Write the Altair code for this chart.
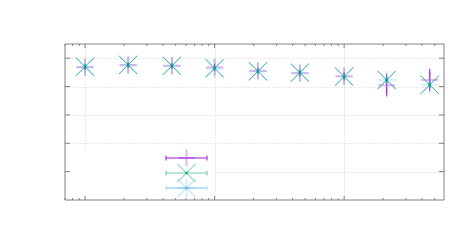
import altair as alt
import pandas as pd

# ---- data ----
x_vals = [1, 2.15, 4.68, 10, 21.6, 45.5, 100, 213, 458]
purple_y = [4.68, 4.75, 4.73, 4.68, 4.56, 4.47, 4.36, 4.05, 4.23]
purple_err = [0.10, 0.10, 0.10, 0.12, 0.10, 0.12, 0.15, 0.40, 0.40]
green_y = [4.70, 4.76, 4.73, 4.65, 4.54, 4.49, 4.35, 4.23, 4.06]
green_err = [0.08, 0.08, 0.08, 0.08, 0.08, 0.08, 0.08, 0.10, 0.10]
blue_y = [4.70, 4.77, 4.73, 4.63, 4.53, 4.49, 4.35, 4.23, 4.06]
blue_err = [0.10, 0.10, 0.10, 0.10, 0.10, 0.10, 0.10, 0.12, 0.12]

x_major = [1, 10, 100]
x_minor = [0.7, 0.8, 0.9, 2, 3, 4, 5, 6, 7, 8, 9,
           20, 30, 40, 50, 60, 70, 80, 90, 200, 300, 400, 500]
y_ticks = [1, 2, 3, 4, 5]

W, H = 379, 156
GRAY = "#808080"

PLUS = "M-1,0L1,0M0,-1L0,1"
XSH = "M-1,-1L1,1M-1,1L1,-1"
STAR = PLUS + XSH

series = [
    dict(name="purple", color="#9400d3", ys=purple_y, err=purple_err, shape=PLUS,
         size=289, sw=2.0, op=0.28, lineop=0.9, linew=1.0, dot=False),
    dict(name="blue", color="#56b4e9", ys=blue_y, err=blue_err, shape=STAR,
         size=340, sw=1.4, op=0.3, lineop=0.4, linew=1.8, dot=True),
    dict(name="green", color="#009e73", ys=green_y, err=green_err, shape=XSH,
         size=330, sw=1.0, op=0.65, lineop=0.55, linew=1.0, dot=True),
]
key_order = ["purple", "green", "blue"]

xscale = alt.Scale(type="log", domain=[0.7, 590], nice=False)
yscale = alt.Scale(domain=[0, 5.5], nice=False, zero=False)
xaxis = alt.Axis(values=x_major, grid=True, gridDash=[1, 2], gridColor="#d4d4d4",
                 labels=False, ticks=False, domain=False, title=None)
yaxis = alt.Axis(values=y_ticks, grid=True, gridDash=[1, 2], gridColor="#d4d4d4",
                 labels=False, ticks=False, domain=False, title=None)


def X(field="x"):
    return alt.X(f"{field}:Q", scale=xscale, axis=xaxis)


def Y(field="y"):
    return alt.Y(f"{field}:Q", scale=yscale, axis=yaxis)


layers = []

# key box background (hides grid lines)
layers.append(alt.Chart(pd.DataFrame({"a": [0]})).mark_rect(fill="white").encode(
    x=alt.value(1), x2=alt.value(150), y=alt.value(106), y2=alt.value(H - 1)))

for s in series:
    df = pd.DataFrame({"x": x_vals, "y": s["ys"],
                       "lo": [v - e for v, e in zip(s["ys"], s["err"])],
                       "hi": [v + e for v, e in zip(s["ys"], s["err"])]})
    base = alt.Chart(df)
    layers.append(base.mark_rule(color=s["color"], opacity=s["lineop"], strokeWidth=s["linew"]).encode(
        x=X(), y=Y("lo"), y2="hi:Q"))
    layers.append(base.mark_point(shape=s["shape"], size=s["size"], filled=False,
                                  color=s["color"], strokeWidth=s["sw"], opacity=s["op"]).encode(
        x=X(), y=Y()))
    if s["dot"]:
        layers.append(base.mark_point(shape="square", size=6, filled=True,
                                      color=s["color"], opacity=0.8).encode(x=X(), y=Y()))

# manual key
one = pd.DataFrame({"a": [0]})
by_name = {s["name"]: s for s in series}
for i, nm in enumerate(key_order):
    s = by_name[nm]
    yy = 114 + i * 15
    c = alt.Chart(one)
    layers.append(c.mark_rule(color=s["color"], opacity=s["lineop"], strokeWidth=s["linew"]).encode(
        x=alt.value(101), x2=alt.value(142), y=alt.value(yy)))
    for xx in (101, 142):
        layers.append(c.mark_rule(color=s["color"], opacity=s["lineop"], strokeWidth=1).encode(
            x=alt.value(xx), y=alt.value(yy - 2.5), y2=alt.value(yy + 2.5)))
    layers.append(c.mark_point(shape=s["shape"], size=s["size"], filled=False,
                               color=s["color"], strokeWidth=s["sw"], opacity=s["op"]).encode(
        x=alt.value(121.5), y=alt.value(yy)))
    if s["dot"]:
        layers.append(c.mark_point(shape="square", size=6, filled=True,
                                   color=s["color"], opacity=0.8).encode(
            x=alt.value(121.5), y=alt.value(yy)))

# ticks (inward, mirrored)
maj = alt.Chart(pd.DataFrame({"x": x_major}))
mnr = alt.Chart(pd.DataFrame({"x": x_minor}))
yt = alt.Chart(pd.DataFrame({"y": y_ticks}))
layers.append(maj.mark_rule(color=GRAY).encode(x=X(), y=alt.value(H), y2=alt.value(H - 4)))
layers.append(maj.mark_rule(color=GRAY).encode(x=X(), y=alt.value(0), y2=alt.value(4)))
layers.append(mnr.mark_rule(color=GRAY).encode(x=X(), y=alt.value(H), y2=alt.value(H - 2)))
layers.append(mnr.mark_rule(color=GRAY).encode(x=X(), y=alt.value(0), y2=alt.value(2)))
layers.append(yt.mark_rule(color=GRAY).encode(y=Y(), x=alt.value(0), x2=alt.value(5)))
layers.append(yt.mark_rule(color=GRAY).encode(y=Y(), x=alt.value(W - 5), x2=alt.value(W)))

# frame
layers.append(alt.Chart(one).mark_rect(fillOpacity=0, stroke=GRAY, strokeWidth=1).encode(
    x=alt.value(0), x2=alt.value(W), y=alt.value(0), y2=alt.value(H)))

chart = alt.layer(*layers).properties(
    width=W, height=H,
    autosize=alt.AutoSizeParams(type="none"),
    padding={"left": 57, "top": 36, "right": 20, "bottom": 20},
).configure_view(stroke=None)

chart.save("out.html", embed_options={"renderer": "svg", "actions": False})
